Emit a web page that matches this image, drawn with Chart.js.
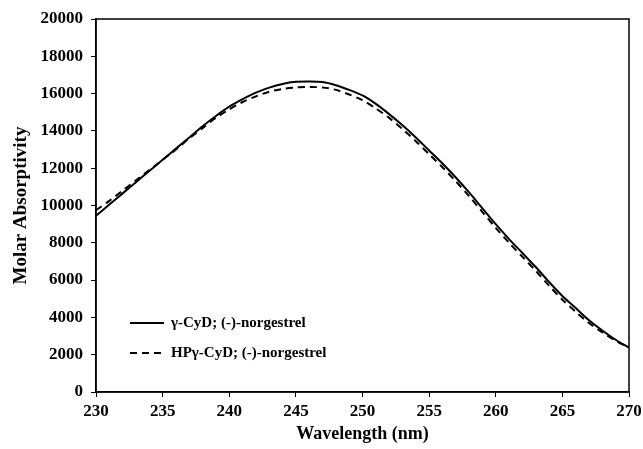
<!DOCTYPE html>
<html>
<head>
<meta charset="utf-8">
<script src="https://cdn.jsdelivr.net/npm/chart.js@4"></script>
<style>
  html, body { margin: 0; padding: 0; background: #fff; }
  #wrap { width: 643px; height: 449px; }
</style>
</head>
<body>
<div id="wrap"><canvas id="spectra" width="643" height="449"></canvas></div>
<script>
const wavelength = [230, 231, 232, 233, 234, 235, 236, 237, 238, 239, 240,
  241, 242, 243, 244, 245, 246, 247, 248, 249, 250,
  251, 252, 253, 254, 255, 256, 257, 258, 259, 260,
  261, 262, 263, 264, 265, 266, 267, 268, 269, 270];

const gammaCyD = [9450, 10050, 10650, 11250, 11850, 12450, 13050, 13650, 14250, 14800, 15300,
  15700, 16050, 16320, 16520, 16630, 16650, 16620, 16450, 16200, 15900,
  15450, 14900, 14300, 13650, 12950, 12250, 11500, 10700, 9850, 9000,
  8200, 7450, 6700, 5900, 5150, 4500, 3850, 3300, 2800, 2380];

const hpGammaCyD = [9750, 10250, 10800, 11350, 11900, 12450, 13000, 13600, 14150, 14700, 15150,
  15550, 15850, 16100, 16250, 16330, 16350, 16330, 16200, 15950, 15650,
  15200, 14700, 14100, 13450, 12750, 12050, 11300, 10500, 9650, 8800,
  8000, 7250, 6500, 5700, 4950, 4300, 3700, 3200, 2750, 2380];

const seriesLabels = ["γ-CyD; (-)-norgestrel", "HPγ-CyD; (-)-norgestrel"];

const serif = "'Liberation Serif', 'Times New Roman', serif";

const toPoints = (ys) => wavelength.map((x, i) => ({ x: x, y: ys[i] }));

// box round the plot area + legend inside the plot
const frame = {
  id: "frame",
  afterDraw(chart) {
    const { ctx, chartArea: a } = chart;
    ctx.save();
    ctx.strokeStyle = "#000";
    ctx.lineWidth = 1.5;
    ctx.strokeRect(a.left, a.top, a.right - a.left, a.bottom - a.top);

    const rows = [323, 353];
    chart.data.datasets.forEach((ds, i) => {
      const y = rows[i];
      ctx.beginPath();
      ctx.setLineDash(ds.borderDash || []);
      ctx.lineWidth = 2;
      ctx.moveTo(130, y);
      ctx.lineTo(164, y);
      ctx.stroke();
      ctx.setLineDash([]);
      ctx.fillStyle = "#000";
      ctx.font = "bold 15px " + serif;
      ctx.textBaseline = "middle";
      ctx.fillText(ds.label, 171, y);
    });
    ctx.restore();
  },
};

new Chart(document.getElementById("spectra"), {
  type: "line",
  data: {
    datasets: [
      {
        label: seriesLabels[0],
        data: toPoints(gammaCyD),
        borderColor: "#000",
        borderWidth: 2,
        pointRadius: 0,
        tension: 0.3,
      },
      {
        label: seriesLabels[1],
        data: toPoints(hpGammaCyD),
        borderColor: "#000",
        borderWidth: 2,
        borderDash: [7, 5],
        pointRadius: 0,
        tension: 0.3,
      },
    ],
  },
  options: {
    responsive: false,
    animation: false,
    layout: { padding: { top: 19, right: 0, left: 0, bottom: 0 } },
    plugins: {
      legend: { display: false },
      tooltip: { enabled: false },
    },
    scales: {
      x: {
        type: "linear",
        min: 230,
        max: 270,
        ticks: {
          stepSize: 5,
          color: "#000",
          font: { family: serif, size: 17, weight: "bold" },
          padding: 4,
          callback: (v) => String(v),
        },
        grid: { drawOnChartArea: false, color: "#000", tickLength: 5 },
        border: { color: "#000", width: 1.5 },
        title: {
          display: true,
          text: "Wavelength (nm)",
          color: "#000",
          font: { family: serif, size: 18, weight: "bold" },
          padding: { top: 2 },
        },
        afterFit: (s) => { s.height = 57; s.paddingRight = 14; },
      },
      y: {
        min: 0,
        max: 20000,
        ticks: {
          stepSize: 2000,
          color: "#000",
          font: { family: serif, size: 17, weight: "bold" },
          padding: 8,
          callback: (v) => String(v),
        },
        grid: { drawOnChartArea: false, color: "#000", tickLength: 5 },
        border: { color: "#000", width: 1.5 },
        title: {
          display: true,
          text: "Molar Absorptivity",
          color: "#000",
          font: { family: serif, size: 19, weight: "bold" },
          padding: { top: 10, bottom: 0 },
        },
        afterFit: (s) => { s.width = 96; },
      },
    },
  },
  plugins: [frame],
});
</script>
</body>
</html>
